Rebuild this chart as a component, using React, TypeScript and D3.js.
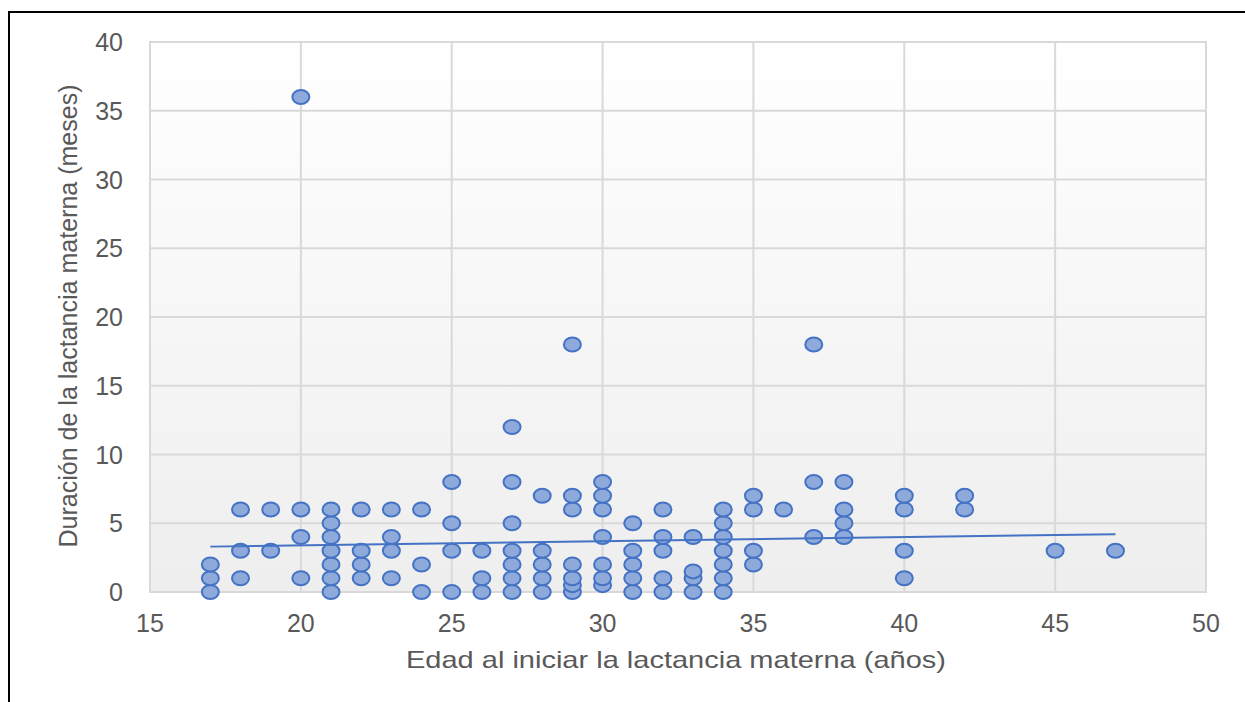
import React, { useEffect } from "react";
import * as d3 from "d3";

// age at start (x) and duration in months (y)
const edad = [
  17, 17, 17,
  18, 18, 18,
  19, 19,
  20, 20, 20, 20,
  21, 21, 21, 21, 21, 21, 21,
  22, 22, 22, 22,
  23, 23, 23, 23,
  24, 24, 24,
  25, 25, 25, 25,
  26, 26, 26,
  27, 27, 27, 27, 27, 27, 27,
  28, 28, 28, 28, 28,
  29, 29, 29, 29, 29, 29, 29,
  30, 30, 30, 30, 30, 30, 30,
  31, 31, 31, 31, 31,
  32, 32, 32, 32, 32,
  33, 33, 33, 33,
  34, 34, 34, 34, 34, 34, 34,
  35, 35, 35, 35,
  36,
  37, 37, 37,
  38, 38, 38, 38,
  40, 40, 40, 40,
  42, 42,
  45,
  47,
];
const duracion = [
  0, 1, 2,
  1, 3, 6,
  3, 6,
  1, 4, 6, 36,
  0, 1, 2, 3, 4, 5, 6,
  1, 2, 3, 6,
  1, 3, 4, 6,
  0, 2, 6,
  0, 3, 5, 8,
  0, 1, 3,
  0, 1, 2, 3, 5, 8, 12,
  0, 1, 2, 3, 7,
  0, 0.5, 1, 2, 6, 7, 18,
  0.5, 1, 2, 4, 6, 7, 8,
  0, 1, 2, 3, 5,
  0, 1, 3, 4, 6,
  0, 1, 1.5, 4,
  0, 1, 2, 3, 4, 5, 6,
  2, 3, 6, 7,
  6,
  4, 8, 18,
  4, 5, 6, 8,
  1, 3, 6, 7,
  6, 7,
  3,
  3,
];

// linear trend line endpoints as drawn in the picture
const trendX = [17, 47];
const trendY = [3.3, 4.2];

const xTicks = [15, 20, 25, 30, 35, 40, 45, 50];
const yTicks = [0, 5, 10, 15, 20, 25, 30, 35, 40];

const W = 1245;
const H = 702;
const plot = { left: 150, right: 1206, top: 42, bottom: 592 };
const font = "'Liberation Sans', Arial, sans-serif";
const textColor = "#595959";
const gridColor = "#d9d9d9";

export default function App() {
  useEffect(() => {
    document.body.style.margin = "0";
    document.body.style.overflow = "hidden";
  }, []);

  const x = d3.scaleLinear().domain([15, 50]).range([plot.left, plot.right]);
  const y = d3.scaleLinear().domain([0, 40]).range([plot.bottom, plot.top]);

  const points = edad.map((e, i) => ({ e, d: duracion[i] }));
  const trend = d3
    .line<number>()
    .x((d) => x(d))
    .y((_, i) => y(trendY[i]));

  return (
    <svg width={W} height={H} style={{ display: "block" }}>
      <defs>
        <linearGradient id="bg" x1="0" y1="0" x2="0" y2="1">
          <stop offset="0" stopColor="#ffffff" />
          <stop offset="1" stopColor="#eeeeee" />
        </linearGradient>
      </defs>
      <rect x={0} y={0} width={W} height={H} fill="#fff" />
      <rect x={9} y={12} width={W} height={H} fill="none" stroke="#000" strokeWidth={2} />

      <rect
        x={plot.left}
        y={plot.top}
        width={plot.right - plot.left}
        height={plot.bottom - plot.top}
        fill="url(#bg)"
      />

      {/* grid */}
      {xTicks.map((t) => (
        <line key={"gx" + t} x1={x(t)} x2={x(t)} y1={plot.top} y2={plot.bottom} stroke={gridColor} strokeWidth={2} />
      ))}
      {yTicks.map((t) => (
        <line key={"gy" + t} x1={plot.left} x2={plot.right} y1={y(t)} y2={y(t)} stroke={gridColor} strokeWidth={2} />
      ))}
      <rect
        x={plot.left}
        y={plot.top}
        width={plot.right - plot.left}
        height={plot.bottom - plot.top}
        fill="none"
        stroke={gridColor}
        strokeWidth={2}
      />

      {/* tick labels */}
      {xTicks.map((t) => (
        <text key={"tx" + t} x={x(t)} y={632} textAnchor="middle" fontFamily={font} fontSize={25} fill={textColor}>
          {t}
        </text>
      ))}
      {yTicks.map((t) => (
        <text key={"ty" + t} x={123} y={y(t) + 9} textAnchor="end" fontFamily={font} fontSize={25} fill={textColor}>
          {t}
        </text>
      ))}

      {/* axis titles */}
      <text
        x={676}
        y={668}
        textAnchor="middle"
        fontFamily={font}
        fontSize={24}
        fill={textColor}
        textLength={540}
        lengthAdjust="spacingAndGlyphs"
      >
        Edad al iniciar la lactancia materna (años)
      </text>
      <text
        transform={`translate(77,${316}) rotate(-90)`}
        textAnchor="middle"
        fontFamily={font}
        fontSize={25}
        fill={textColor}
        textLength={463}
        lengthAdjust="spacingAndGlyphs"
      >
        Duración de la lactancia materna (meses)
      </text>

      {/* points */}
      {points.map((p, i) => (
        <ellipse
          key={i}
          cx={x(p.e)}
          cy={y(p.d)}
          rx={8.5}
          ry={7}
          fill="#8eaadb"
          stroke="#4472c4"
          strokeWidth={2}
        />
      ))}

      {/* trend line */}
      <path d={trend(trendX) || ""} fill="none" stroke="#4472c4" strokeWidth={2} />
    </svg>
  );
}
